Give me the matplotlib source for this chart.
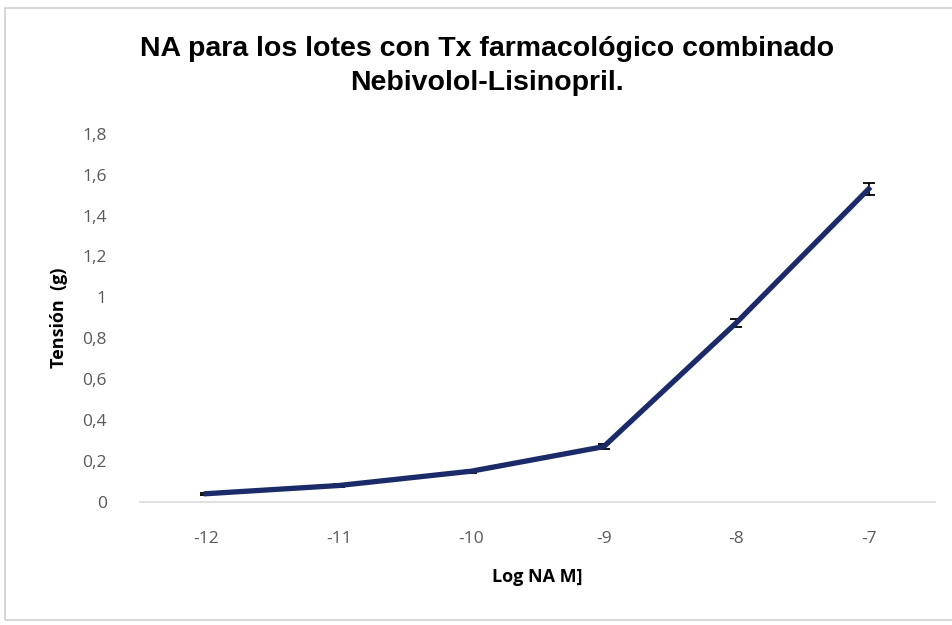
import matplotlib.pyplot as plt
from matplotlib.patches import Rectangle

# dose-response data
log_na = [-12, -11, -10, -9, -8, -7]
tension = [0.04, 0.08, 0.15, 0.27, 0.875, 1.53]
error = [0.005, 0.005, 0.008, 0.012, 0.02, 0.03]
y_ticks = [0, 0.2, 0.4, 0.6, 0.8, 1.0, 1.2, 1.4, 1.6, 1.8]
y_labels = ["0", "0,2", "0,4", "0,6", "0,8", "1", "1,2", "1,4", "1,6", "1,8"]

plt.rcParams['font.family'] = ['Open Sans', 'DejaVu Sans']

fig = plt.figure(figsize=(9.53, 6.25), dpi=100)
fig.patch.set_facecolor('white')
fig.patches.append(Rectangle((0.005, 0.008), 1.2, 0.98, transform=fig.transFigure,
                             fill=False, edgecolor='#d0d0d0', linewidth=1.2))

ax = fig.add_axes([0.147, 0.197, 0.834, 0.589])
ax.errorbar(log_na, tension, yerr=error, color='#1b2a68', linewidth=3.8,
            ecolor='black', elinewidth=1.3, capsize=4, capthick=1.3)

ax.set_xlim(-12.5, -6.5)
ax.set_ylim(0, 1.8)
ax.set_xticks(log_na)
ax.set_xticklabels([str(v) for v in log_na])
ax.set_yticks(y_ticks)
ax.set_yticklabels(y_labels)
ax.tick_params(length=0, labelsize=12.5, colors='#595959')
ax.tick_params(axis='x', pad=21)
ax.tick_params(axis='y', pad=24)

for s in ['top', 'right', 'left']:
    ax.spines[s].set_visible(False)
ax.spines['bottom'].set_color('#d9d9d9')
ax.spines['bottom'].set_linewidth(1.2)

ax.set_xlabel("Log NA M]", fontsize=13, fontweight='bold', labelpad=15)
ax.set_ylabel("Tensión  (g)", fontsize=13, fontweight='bold', labelpad=10)

fig.text(0.511, 0.895, "NA para los lotes con Tx farmacológico combinado\nNebivolol-Lisinopril.",
         ha='center', va='center', fontsize=20.5, fontweight='bold', linespacing=1.4,
         family=['Liberation Sans', 'DejaVu Sans'])

fig.savefig('out.png', dpi=100)
